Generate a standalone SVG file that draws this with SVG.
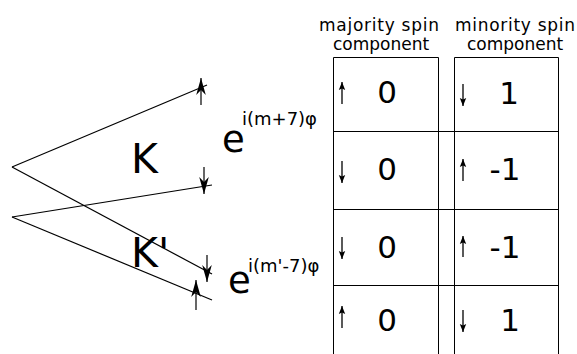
<svg xmlns="http://www.w3.org/2000/svg" width="577" height="354" viewBox="0 0 577 354">
<style>
text{font-family:"DejaVu Sans","Liberation Sans",sans-serif;fill:#000}
.big{font-size:41px}
.e{font-size:37px}
.sup{font-size:18px}
.hdr{font-size:17px;text-anchor:middle}
.num{font-size:31px;text-anchor:middle}
.ln{stroke:#000;stroke-width:1.2;fill:none}
.tb{stroke:#000;stroke-width:1;fill:none}
.arL{stroke:#000;stroke-width:1.2;fill:none;marker-end:url(#ahL)}
.arS{stroke:#000;stroke-width:1.3;fill:none;marker-end:url(#ahS)}
</style>
<defs>
<marker id="ahL" viewBox="-20 -6 22 12" refX="0" refY="0" markerWidth="22" markerHeight="12" markerUnits="userSpaceOnUse" orient="auto">
<path d="M0,0 L-17,-4.8 L-12,0 L-17,4.8 Z" fill="#000"/>
</marker>
<marker id="ahS" viewBox="-10 -4 12 8" refX="0" refY="0" markerWidth="12" markerHeight="8" markerUnits="userSpaceOnUse" orient="auto">
<path d="M0,0 L-8,-3.2 L-6.5,0 L-8,3.2 Z" fill="#000"/>
</marker>
</defs>
<g id="connectors">
<path class="ln" d="M12,167 L207,85"/>
<path class="ln" d="M12,167 L212,274"/>
<path class="ln" d="M12,217 L212,185"/>
<path class="ln" d="M12,217 L212,300"/>
<path class="arL" d="M201,105 L201,78"/>
<path class="arL" d="M204,167 L204,194"/>
<path class="arL" d="M207,255 L207,282"/>
<path class="arL" d="M196,310 L196,280"/>
</g>
<g id="labelK"><text class="big" x="131" y="173">K</text></g>
<g id="labelKp"><text class="big" x="131" y="267">K'</text></g>
<g id="phaseK"><text class="e" x="222" y="152">e</text><text class="sup" x="242" y="125">i(m+7)φ</text></g>
<g id="phaseKp"><text class="e" x="228" y="293">e</text><text class="sup" x="248" y="272">i(m'-7)φ</text></g>
<g id="headerMaj"><text class="hdr" x="379" y="31" textLength="120">majority spin</text><text class="hdr" x="381" y="50">component</text></g>
<g id="headerMin"><text class="hdr" x="515" y="31" textLength="120">minority spin</text><text class="hdr" x="515" y="50">component</text></g>
<g id="table">
<path class="tb" d="M333.5,354 V57.5 H438.5 V354"/>
<path class="tb" d="M454.5,354 V57.5 H558.5 V354"/>
<path class="tb" d="M333,131.5 H559"/>
<path class="tb" d="M333,209.5 H559"/>
<path class="tb" d="M333,285.5 H559"/>
</g>
<g id="cellArrows">
<path class="arS" d="M342,104 V82"/>
<path class="arS" d="M342,161 V183"/>
<path class="arS" d="M342,237 V259"/>
<path class="arS" d="M342,328 V306"/>
<path class="arS" d="M463,84 V106"/>
<path class="arS" d="M463,181 V159"/>
<path class="arS" d="M463,257 V236"/>
<path class="arS" d="M463,310 V332"/>
</g>
<g id="cellNumbers">
<text class="num" x="387" y="103">0</text>
<text class="num" x="387" y="180">0</text>
<text class="num" x="387" y="258">0</text>
<text class="num" x="387" y="331">0</text>
<text class="num" x="509" y="104">1</text>
<text class="num" x="505" y="180">-1</text>
<text class="num" x="505" y="258">-1</text>
<text class="num" x="510" y="331">1</text>
</g>
</svg>
